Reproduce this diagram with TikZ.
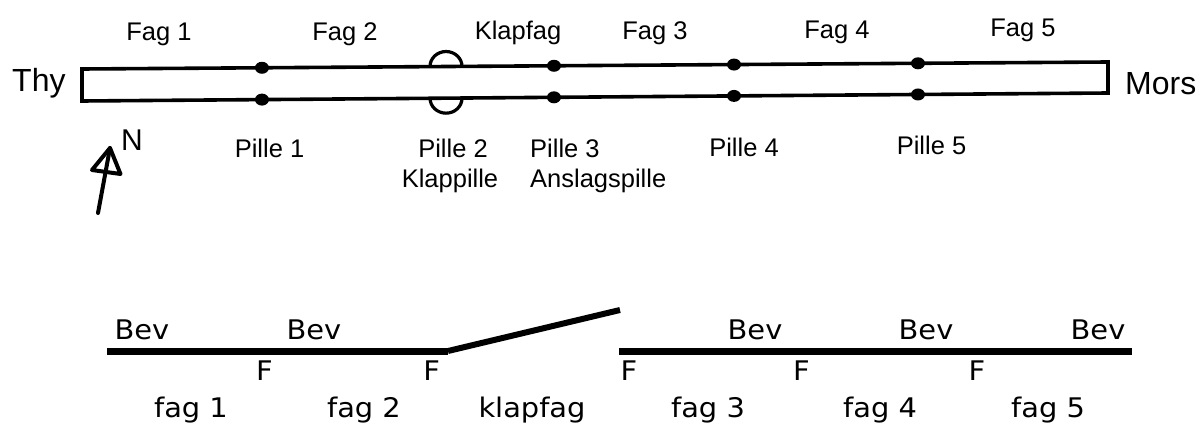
\documentclass[tikz,border=0pt]{standalone}
\usepackage{fontspec}
\setmainfont{Liberation Sans}
\newfontfamily\bevfont[FakeStretch=1.07]{DejaVu Sans}
\usetikzlibrary{calc}
\begin{document}
\begin{tikzpicture}[x=1pt,y=-1pt,
  lbl/.style={inner sep=0pt, anchor=base, font=\fontsize{25.5}{28}\selectfont},
  lblw/.style={lbl, anchor=base west},
  big/.style={inner sep=0pt, anchor=base west, font=\fontsize{32}{36}\selectfont},
  btxt/.style={inner sep=0pt, anchor=base, font=\bevfont\fontsize{27}{30}\selectfont},
  barline/.style={line width=3.6pt, line join=miter},
  deck/.style={line width=7pt},
  arr/.style={line width=4pt, line join=round, line cap=round},
  pierdot/.style={fill=black},
]
\useasboundingbox (0,0) rectangle (1202,428);

% --- bridge plan ---
\coordinate (tl) at (82,69);
\coordinate (tr) at (1108,62);
\coordinate (br) at (1108,93);
\coordinate (bl) at (82,101);
\draw[barline] (tl) -- (tr) -- (br) -- (bl) -- cycle;

\foreach \n/\f in {p1/0.1754, p3/0.46, p4/0.6355, p5/0.8148}{
  \coordinate (\n t) at ($(tl)!\f!(tr)$);
  \coordinate (\n b) at ($(bl)!\f!(br)$);
  \fill[pierdot] (\n t) ellipse [x radius=7pt, y radius=6pt];
  \fill[pierdot] (\n b) ellipse [x radius=7pt, y radius=6pt];
}
\coordinate (p2t) at ($(tl)!0.3548!(tr)$);
\coordinate (p2b) at ($(bl)!0.3548!(br)$);
\draw[line width=3.2pt] ($(p2t)+(-16,0)$) arc[start angle=180, end angle=0, x radius=16pt, y radius=15pt];
\draw[line width=3.2pt] ($(p2b)+(-16,0)$) arc[start angle=180, end angle=360, x radius=16pt, y radius=15pt];

\node[big] (thy) at (12,92) {Thy};
\node[big] (mors) at (1125,94) {Mors};

\node[lbl] (fag1) at (159,41) {Fag 1};
\node[lbl] (fag2) at (345,41) {Fag 2};
\node[lbl] (klapfag) at (518,40) {Klapfag};
\node[lbl] (fag3) at (655,40) {Fag 3};
\node[lbl] (fag4) at (837,39) {Fag 4};
\node[lbl] (fag5) at (1023,37) {Fag 5};

\node[lbl] (pille1) at (269.5,157) {Pille 1};
\node[lbl] (pille2) at (453,157) {Pille 2};
\node[lbl] (klappille) at (450,187) {Klappille};
\node[lblw] (pille3) at (530,157) {Pille 3};
\node[lblw] (anslag) at (530,187) {Anslagspille};
\node[lbl] (pille4) at (744,156) {Pille 4};
\node[lbl] (pille5) at (931.5,154) {Pille 5};

% north arrow
\coordinate (atail) at (98,213);
\coordinate (atip) at (110,148);
\coordinate (aleft) at (92,170);
\coordinate (aright) at (120.5,174);
\draw[arr] (atail) -- (atip);
\draw[arr] (atip) -- (aleft) -- (aright) -- cycle;
\node[inner sep=0pt, anchor=base, font=\fontsize{30}{34}\selectfont] (north) at (132,150) {N};

% --- elevation ---
\coordinate (d1a) at (107,351);
\coordinate (d1b) at (448,351);
\coordinate (kt) at (620,310);
\coordinate (d2a) at (619,351);
\coordinate (d2b) at (1132,351);
\draw[deck] (d1a) -- (d1b);
\draw[line width=6pt] (d1b) -- (kt);
\draw[deck] (d2a) -- (d2b);

\foreach \x [count=\i] in {142,314,755,926,1098}
  \node[btxt] (bev\i) at (\x,339) {Bev};
\foreach \x [count=\i] in {264.5,431.6,629,801.5,977}
  \node[btxt] (f\i) at (\x,380) {F};
\node[btxt] (bf1) at (191,417) {fag 1};
\node[btxt] (bf2) at (364,417) {fag 2};
\node[btxt] (bklap) at (532,417) {klapfag};
\node[btxt] (bf3) at (708,417) {fag 3};
\node[btxt] (bf4) at (880,417) {fag 4};
\node[btxt] (bf5) at (1048,417) {fag 5};
\end{tikzpicture}
\end{document}
